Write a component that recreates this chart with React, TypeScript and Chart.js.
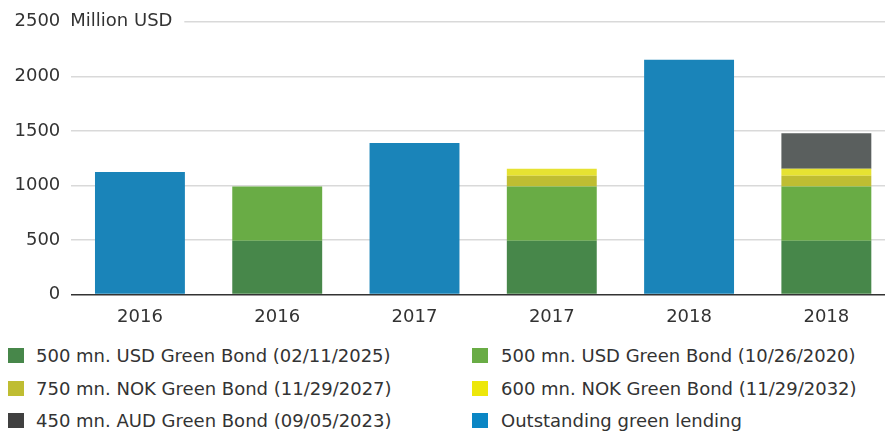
import React, { useEffect, useRef } from "react";
import { Chart, registerables } from "chart.js";

Chart.register(...registerables);

const categories = ["2016", "2016", "2017", "2017", "2018", "2018"];
const usdBond2025 = [null, 493, null, 493, null, 493];
const usdBond2020 = [null, 497, null, 497, null, 497];
const nokBond2027 = [null, null, null, 98, null, 98];
const nokBond2032 = [null, null, null, 64, null, 64];
const audBond2023 = [null, null, null, null, null, 327];
const greenLending = [1122, null, 1388, null, 2152, null];
const yTicks = [0, 500, 1000, 1500, 2000, 2500];
const unitLabel = "Million USD";

const seriesNames = [
  "500 mn. USD Green Bond (02/11/2025)",
  "500 mn. USD Green Bond (10/26/2020)",
  "750 mn. NOK Green Bond (11/29/2027)",
  "600 mn. NOK Green Bond (11/29/2032)",
  "450 mn. AUD Green Bond (09/05/2023)",
  "Outstanding green lending",
];
const barColors = ["#47874A", "#69AC45", "#BFBD32", "#E6E232", "#5A5F5E", "#1A84B9"];
const legendColors = ["#47874A", "#69AC45", "#BFBD32", "#EDE70A", "#404040", "#0A86C4"];
const legendOrder = [0, 1, 2, 3, 4, 5];

const FONT = "'DejaVu Sans', sans-serif";

const unitPlugin = {
  id: "unitLabel",
  beforeDatasetsDraw(chart: any) {
    const { ctx, chartArea, scales } = chart;
    const y = scales.y.getPixelForValue(yTicks[yTicks.length - 1]);
    ctx.save();
    ctx.fillStyle = "#ffffff";
    ctx.fillRect(chartArea.left - 2, y - 4, 115, 8);
    ctx.font = `18px ${FONT}`;
    ctx.fillStyle = "#333333";
    ctx.textAlign = "left";
    ctx.textBaseline = "middle";
    ctx.fillText(unitLabel, chartArea.left - 1, y);
    ctx.restore();
  },
};

export default function App() {
  const ref = useRef<HTMLCanvasElement>(null);

  useEffect(() => {
    const seriesData = [usdBond2025, usdBond2020, nokBond2027, nokBond2032, audBond2023, greenLending];
    const chart = new Chart(ref.current!, {
      type: "bar",
      data: {
        labels: categories,
        datasets: seriesData.map((d, i) => ({
          label: seriesNames[i],
          data: d as any,
          backgroundColor: barColors[i],
          stack: "s",
          barPercentage: 0.655,
          categoryPercentage: 1,
        })),
      },
      options: {
        animation: false,
        responsive: false,
        layout: { padding: { top: 20, right: 5, left: 0, bottom: 0 } },
        plugins: { legend: { display: false }, tooltip: { enabled: false } },
        scales: {
          x: {
            stacked: true,
            grid: { display: false },
            border: { display: false },
            ticks: { color: "#333333", font: { family: FONT, size: 18 }, padding: 4 },
            afterFit(scale: any) {
              scale.height = 35.5;
            },
          },
          y: {
            stacked: true,
            min: 0,
            max: 2500,
            afterBuildTicks(scale: any) {
              scale.ticks = yTicks.map((v) => ({ value: v }));
            },
            grid: {
              drawTicks: false,
              color: (c: any) => (c.tick && c.tick.value === 0 ? "#333333" : "#d9d9d9"),
              lineWidth: 1.5,
            },
            border: { display: false },
            ticks: {
              color: "#333333",
              font: { family: FONT, size: 18 },
              padding: 11,
              callback: (v: any) => String(v),
            },
            afterFit(scale: any) {
              scale.width = 71.3;
            },
          },
        },
      },
      plugins: [unitPlugin],
    });
    return () => chart.destroy();
  }, []);

  return (
    <div
      style={{
        position: "fixed",
        left: 0,
        top: 0,
        width: 885,
        height: 432,
        overflow: "hidden",
        background: "#ffffff",
      }}
    >
      <canvas ref={ref} width={900} height={330} style={{ position: "absolute", left: 0, top: 0, width: 900, height: 330 }} />
      {legendOrder.map((idx, k) => {
        const col = k % 2;
        const row = Math.floor(k / 2);
        return (
          <div
            key={idx}
            style={{
              position: "absolute",
              left: col === 0 ? 8 : 472,
              top: 348 + row * 32.5,
              display: "flex",
              alignItems: "center",
              height: 15,
              whiteSpace: "nowrap",
            }}
          >
            <span style={{ display: "inline-block", width: 16, height: 15, background: legendColors[idx] }} />
            <span
              style={{
                marginLeft: col === 0 ? 12 : 13,
                fontFamily: FONT,
                fontSize: 18,
                color: "#333333",
                lineHeight: "15px",
              }}
            >
              {seriesNames[idx]}
            </span>
          </div>
        );
      })}
    </div>
  );
}
